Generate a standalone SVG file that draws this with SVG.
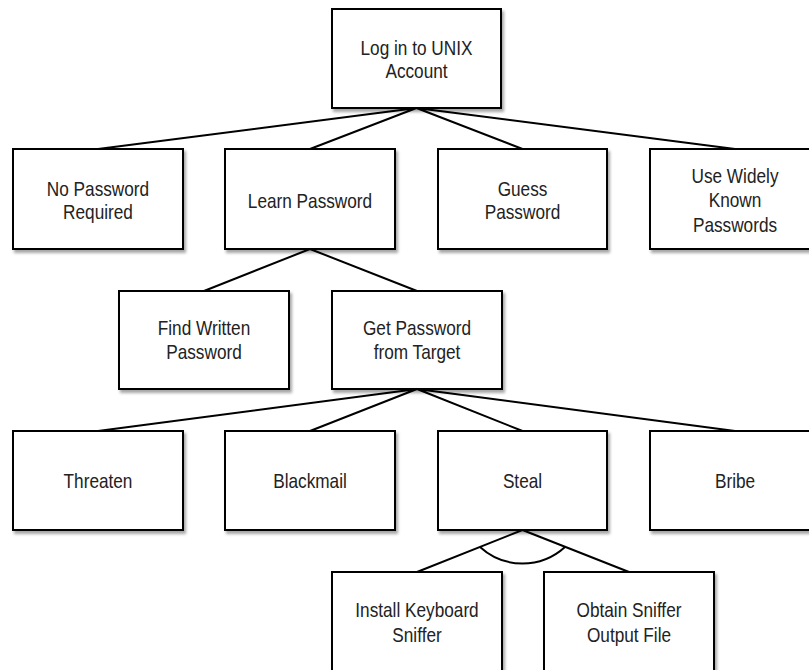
<svg xmlns="http://www.w3.org/2000/svg" width="809" height="670" viewBox="0 0 809 670">
<style>
.box{fill:#fff;stroke:#000;stroke-width:2;filter:url(#sh)}
.t{font-family:"Liberation Sans",Arial,sans-serif;font-size:21px;fill:#222;text-anchor:middle}
.c{stroke:#000;stroke-width:2;fill:none}
</style>
<defs>
<filter id="sh" x="-10%" y="-10%" width="130%" height="130%">
<feDropShadow dx="2" dy="3" stdDeviation="1.5" flood-color="#000" flood-opacity="0.35"/>
</filter>
</defs>
<rect width="809" height="670" fill="#fff"/>
<g id="connectors">
<path class="c" d="M416.5,108 L98,149 M416.5,108 L310,149 M416.5,108 L522.5,149 M416.5,108 L735,149"/>
<path class="c" d="M310,249 L204,291 M310,249 L417,291"/>
<path class="c" d="M417,389 L98,431 M417,389 L310,431 M417,389 L522.5,431 M417,389 L735,431"/>
<path class="c" d="M522.5,530 L417,572 M522.5,530 L629,572"/>
<path class="c" d="M480,547 A63,63 0 0 0 565,547"/>
</g>
<g id="n-root"><rect class="box" x="332" y="9" width="169" height="99"/><g transform="translate(416.5 0) scale(0.82 1)"><text class="t" x="0" y="55.5">Log in to UNIX</text><text class="t" x="0" y="78">Account</text></g></g>
<g id="n-nopw"><rect class="box" x="13" y="149" width="170" height="100"/><g transform="translate(98 0) scale(0.82 1)"><text class="t" x="0" y="196">No Password</text><text class="t" x="0" y="219.5">Required</text></g></g>
<g id="n-learn"><rect class="box" x="225" y="149" width="170" height="100"/><g transform="translate(310 0) scale(0.82 1)"><text class="t" x="0" y="208">Learn Password</text></g></g>
<g id="n-guess"><rect class="box" x="438" y="149" width="169" height="100"/><g transform="translate(522.5 0) scale(0.82 1)"><text class="t" x="0" y="196">Guess</text><text class="t" x="0" y="219.5">Password</text></g></g>
<g id="n-widely"><rect class="box" x="650" y="149" width="170" height="100"/><g transform="translate(735 0) scale(0.82 1)"><text class="t" x="0" y="183">Use Widely</text><text class="t" x="0" y="207.5">Known</text><text class="t" x="0" y="232">Passwords</text></g></g>
<g id="n-find"><rect class="box" x="119" y="291" width="170" height="98"/><g transform="translate(204 0) scale(0.82 1)"><text class="t" x="0" y="335">Find Written</text><text class="t" x="0" y="359">Password</text></g></g>
<g id="n-target"><rect class="box" x="332" y="291" width="170" height="98"/><g transform="translate(417 0) scale(0.82 1)"><text class="t" x="0" y="335">Get Password</text><text class="t" x="0" y="359">from Target</text></g></g>
<g id="n-threaten"><rect class="box" x="13" y="431" width="170" height="99"/><g transform="translate(98 0) scale(0.82 1)"><text class="t" x="0" y="488">Threaten</text></g></g>
<g id="n-blackmail"><rect class="box" x="225" y="431" width="170" height="99"/><g transform="translate(310 0) scale(0.82 1)"><text class="t" x="0" y="488">Blackmail</text></g></g>
<g id="n-steal"><rect class="box" x="438" y="431" width="169" height="99"/><g transform="translate(522.5 0) scale(0.82 1)"><text class="t" x="0" y="488">Steal</text></g></g>
<g id="n-bribe"><rect class="box" x="650" y="431" width="170" height="99"/><g transform="translate(735 0) scale(0.82 1)"><text class="t" x="0" y="488">Bribe</text></g></g>
<g id="n-install"><rect class="box" x="332" y="572" width="170" height="100"/><g transform="translate(417 0) scale(0.82 1)"><text class="t" x="0" y="617">Install Keyboard</text><text class="t" x="0" y="642">Sniffer</text></g></g>
<g id="n-obtain"><rect class="box" x="544" y="572" width="170" height="100"/><g transform="translate(629 0) scale(0.82 1)"><text class="t" x="0" y="617">Obtain Sniffer</text><text class="t" x="0" y="642">Output File</text></g></g>
</svg>
